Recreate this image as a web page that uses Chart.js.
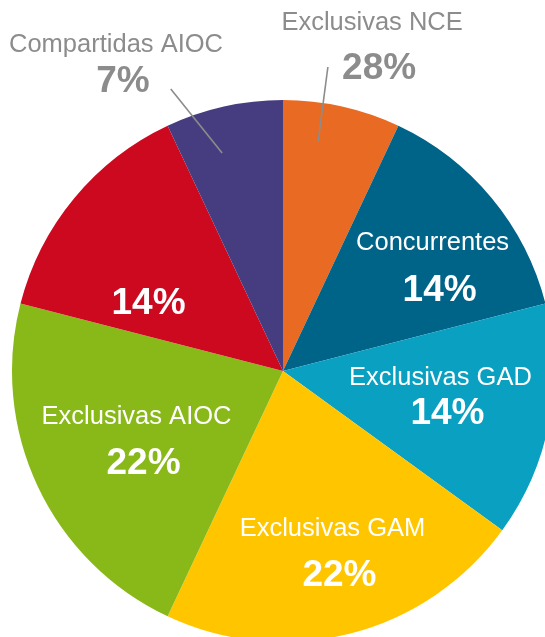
<!DOCTYPE html>
<html>
<head>
<meta charset="utf-8">
<script src="https://cdn.jsdelivr.net/npm/chart.js@4"></script>
<style>
  html, body { margin: 0; padding: 0; background: #fff; overflow: hidden; width: 545px; height: 637px; }
  #pie { position: absolute; left: 0; top: 0; }
</style>
</head>
<body>
<canvas id="pie" width="566" height="742"></canvas>
<script>
// slices, clockwise from 12 o'clock
const sliceNames = ["Exclusivas NCE", "Concurrentes", "Exclusivas GAD", "Exclusivas GAM", "Exclusivas AIOC", "", "Compartidas AIOC"];
const sliceValues = [7, 14, 14, 22, 22, 14, 7];
const pctLabels = ["28%", "14%", "14%", "22%", "22%", "14%", "7%"];
const sliceColors = ["#E96A22", "#006388", "#0AA0C1", "#FFC600", "#88B918", "#CD0920", "#463D80"];

// label placement: angle nudge (deg) from slice middle, distance as fraction of radius,
// gap between name and percent lines, outside = grey text + leader line
const labelPlacement = [
  { nudge: 3.3, dist: 1.247, gap: 46, outside: true, line: [[-3.9, 0.855], [-4.2, 1.134]] },
  { nudge: 5.4, dist: 0.683, gap: 48 },
  { nudge: -2.0, dist: 0.601, gap: 36 },
  { nudge: -1.9, dist: 0.696, gap: 47 },
  { nudge: -0.6, dist: 0.586, gap: 47 },
  { nudge: -13.7, dist: 0.566, gap: 0 },
  { nudge: -15.4, dist: 1.285, gap: 37, outside: true, line: [[-3.0, 0.835], [-9.1, 1.12]] },
];

const pieLabels = {
  id: "pieLabels",
  afterDatasetsDraw(chart) {
    const c = chart.ctx;
    const meta = chart.getDatasetMeta(0);
    meta.data.forEach((arc, i) => {
      const p = labelPlacement[i];
      const mid = (arc.startAngle + arc.endAngle) / 2;
      const R = arc.outerRadius;
      const pt = (nudgeDeg, f) => {
        const a = mid + nudgeDeg * Math.PI / 180;
        return [arc.x + Math.cos(a) * R * f, arc.y + Math.sin(a) * R * f];
      };
      const color = p.outside ? "#8C8C8C" : "#FFFFFF";
      c.save();
      if (p.line) {
        const a = pt(p.line[0][0], p.line[0][1]);
        const b = pt(p.line[1][0], p.line[1][1]);
        c.strokeStyle = "#8C8C8C";
        c.lineWidth = 1.6;
        c.beginPath();
        c.moveTo(a[0], a[1]);
        c.lineTo(b[0], b[1]);
        c.stroke();
      }
      const [cx, cy] = pt(p.nudge, p.dist);
      c.fillStyle = color;
      c.textAlign = "center";
      c.textBaseline = "middle";
      if (sliceNames[i]) {
        c.font = "25.5px 'Liberation Sans', Arial, sans-serif";
        c.fillText(sliceNames[i], cx - 3.5, cy - p.gap / 2);
      }
      c.font = "bold 37px 'Liberation Sans', Arial, sans-serif";
      c.fillText(pctLabels[i], cx + 3.5, cy + p.gap / 2);
      c.restore();
    });
  },
};

new Chart(document.getElementById("pie"), {
  type: "pie",
  data: {
    labels: sliceNames,
    datasets: [{
      data: sliceValues,
      backgroundColor: sliceColors,
      borderWidth: 0,
      hoverOffset: 0,
    }],
  },
  options: {
    responsive: false,
    animation: false,
    events: [],
    layout: { padding: { left: 12, right: 12, top: 100, bottom: 100 } },
    plugins: {
      legend: { display: false },
      tooltip: { enabled: false },
    },
  },
  plugins: [pieLabels],
});
</script>
</body>
</html>
